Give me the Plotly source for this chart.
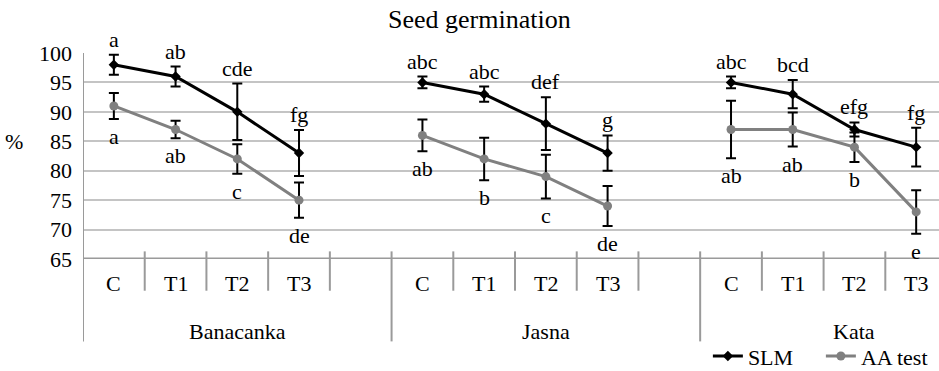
import plotly.graph_objects as go

# data
varieties = ["Banacanka", "Jasna", "Kata"]
treatments = ["C", "T1", "T2", "T3"]

slm_mean = [[98, 96, 90, 83], [95, 93, 88, 83], [95, 93, 87, 84]]
slm_err = [[1.7, 1.7, 4.8, 3.9], [1.0, 1.3, 4.5, 3.0], [1.0, 2.4, 1.2, 3.3]]
slm_letters = [["a", "ab", "cde", "fg"], ["abc", "abc", "def", "g"], ["abc", "bcd", "efg", "fg"]]

aa_mean = [[91, 87, 82, 75], [86, 82, 79, 74], [87, 87, 84, 73]]
aa_err = [[2.2, 1.5, 2.5, 3.0], [2.7, 3.6, 3.7, 3.4], [4.9, 2.9, 2.5, 3.7]]
aa_letters = [["a", "ab", "c", "de"], ["ab", "b", "c", "de"], ["ab", "ab", "b", "e"]]

FONT = "Liberation Serif, Times New Roman, Times, serif"
slot = len(treatments) + 1  # one empty category after each variety


def build(means, errs):
    xs, ys, es = [], [], []
    for g in range(len(varieties)):
        for t in range(len(treatments)):
            xs.append(g * slot + t)
            ys.append(means[g][t])
            es.append(errs[g][t])
        # gap to break the line between varieties
        xs.append(g * slot + len(treatments))
        ys.append(None)
        es.append(None)
    return xs, ys, es


fig = go.Figure()

sx, sy, se = build(slm_mean, slm_err)
fig.add_trace(go.Scatter(
    x=sx, y=sy, name="SLM", mode="lines+markers",
    line=dict(color="black", width=3),
    marker=dict(symbol="diamond", size=8, color="black"),
    error_y=dict(type="data", array=se, visible=True, color="black", thickness=2, width=5),
    connectgaps=False,
))

ax, ay, ae = build(aa_mean, aa_err)
fig.add_trace(go.Scatter(
    x=ax, y=ay, name="AA test", mode="lines+markers",
    line=dict(color="#808080", width=3),
    marker=dict(symbol="circle", size=9, color="#808080"),
    error_y=dict(type="data", array=ae, visible=True, color="black", thickness=2, width=5),
    connectgaps=False,
))

annotations = []
# significance letters
for g in range(len(varieties)):
    for t in range(len(treatments)):
        x = g * slot + t
        annotations.append(dict(
            x=x, y=slm_mean[g][t] + slm_err[g][t], text=slm_letters[g][t],
            showarrow=False, yanchor="bottom", yshift=1,
            font=dict(family=FONT, size=22, color="black")))
        annotations.append(dict(
            x=x, y=aa_mean[g][t] - aa_err[g][t], text=aa_letters[g][t],
            showarrow=False, yanchor="top", yshift=-3,
            font=dict(family=FONT, size=22, color="black")))

# category and group labels under the axis
for g, name in enumerate(varieties):
    for t, tr in enumerate(treatments):
        annotations.append(dict(
            x=g * slot + t, y=-0.12, yref="paper", text=tr, showarrow=False,
            yanchor="middle", font=dict(family=FONT, size=22, color="black")))
    annotations.append(dict(
        x=g * slot + (slot - 1) / 2, y=-0.35, yref="paper", text=name, showarrow=False,
        yanchor="middle", font=dict(family=FONT, size=22, color="black")))

# "%" axis label, horizontal
annotations.append(dict(
    xref="paper", x=-0.081, yref="paper", y=0.57, xanchor="center", yanchor="middle",
    text="%", showarrow=False, font=dict(family=FONT, size=22, color="black")))

shapes = []
n_slots = len(varieties) * slot
for b in range(n_slots):
    xb = b - 0.5
    long_tick = b % slot == 0
    shapes.append(dict(
        type="line", xref="x", yref="paper", x0=xb, x1=xb,
        y0=1 if b == 0 else 0.037, y1=-0.4 if long_tick else -0.154,
        line=dict(color="#9a9a9a", width=2)))

fig.update_layout(
    width=939, height=371,
    margin=dict(l=83, r=0, t=53, b=112, autoexpand=False),
    paper_bgcolor="white", plot_bgcolor="white",
    title=dict(text="Seed germination", x=0.463, xref="paper", xanchor="center",
               y=0.95, yanchor="middle",
               font=dict(family=FONT, size=26, color="black")),
    showlegend=True,
    legend=dict(orientation="h", xanchor="left", x=0.73, yanchor="middle", y=-0.472,
                font=dict(family=FONT, size=22, color="black"),
                bgcolor="rgba(0,0,0,0)", itemwidth=30, entrywidth=68,
                entrywidthmode="pixels"),
    annotations=annotations,
    shapes=shapes,
)

fig.update_xaxes(range=[-0.5, 13.37], showticklabels=False, showgrid=False, zeroline=False,
                 showline=False, ticks="")
fig.update_yaxes(range=[65, 100], dtick=5, showgrid=True, gridcolor="#c4c4c4", gridwidth=2,
                 zeroline=False, showline=False, ticks="", ticklabelstandoff=10,
                 tickfont=dict(family=FONT, size=22, color="black"))

# axis line at the bottom
fig.add_hline(y=65, line=dict(color="#9a9a9a", width=3))

fig.write_html("out.html", config=dict(displayModeBar=False),
               post_script="document.body.style.margin='0';")
